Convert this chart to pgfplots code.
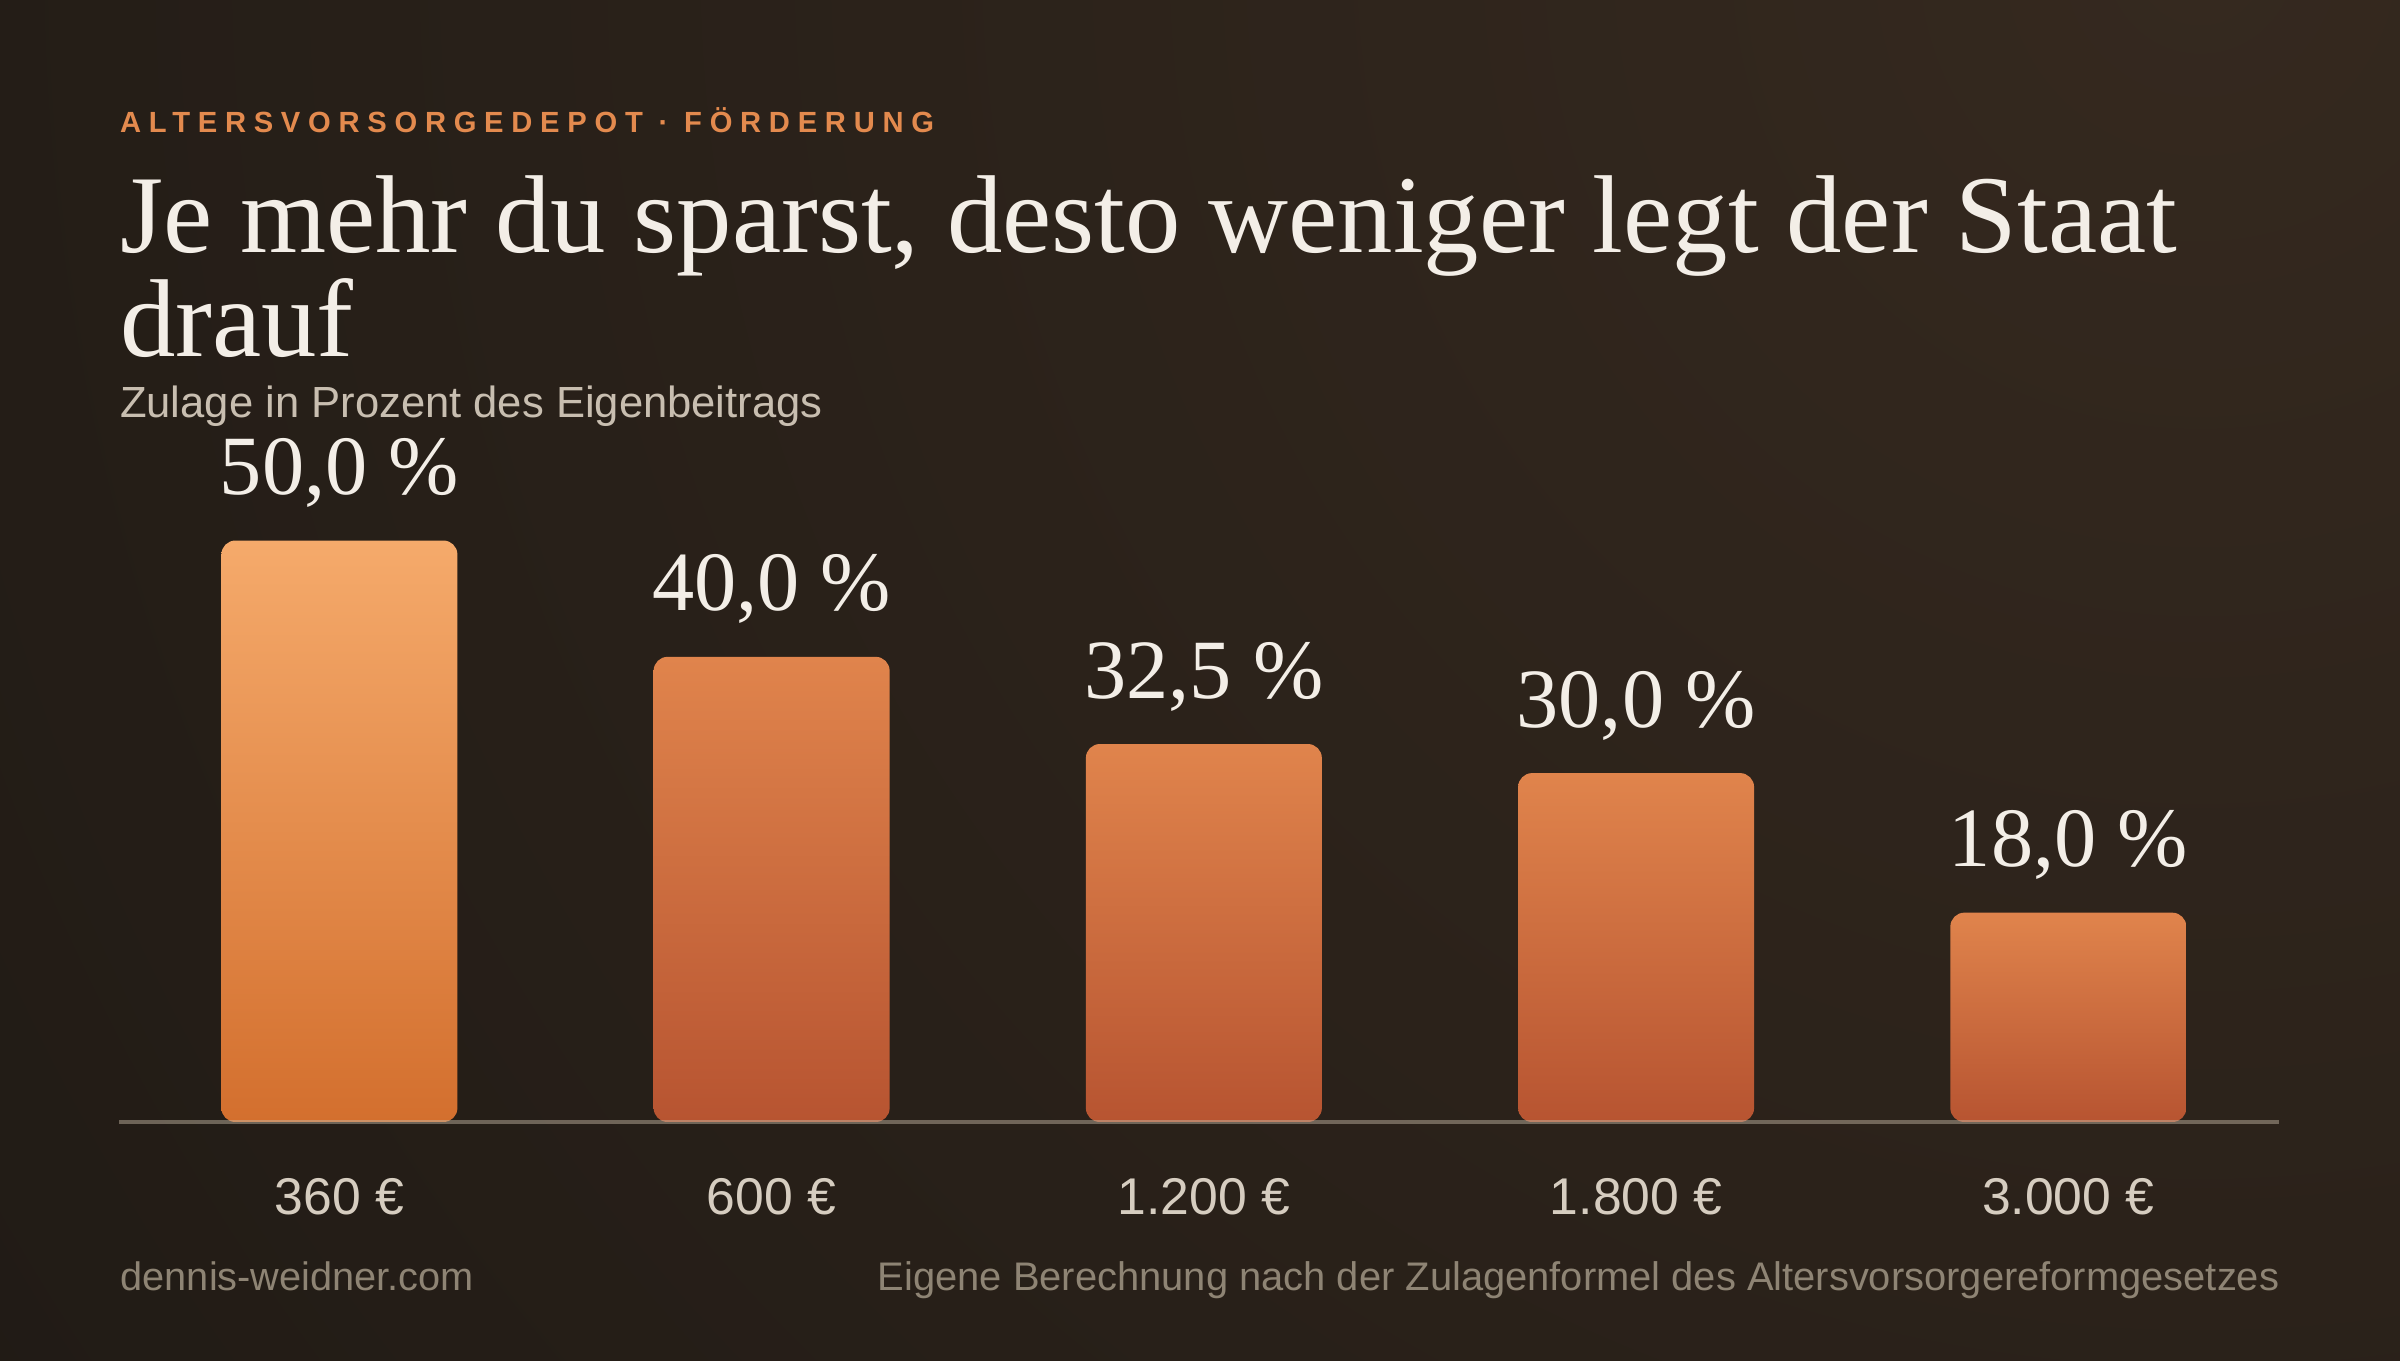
\documentclass[border=0pt]{standalone}
\usepackage{fontspec}
\setmainfont{Liberation Serif}
\setsansfont{Liberation Sans}
\newfontfamily\kickerfont{Liberation Sans}[LetterSpace=26.5]
\usepackage{pgfplots}
\pgfplotsset{compat=1.18}

\definecolor{bgcol}{HTML}{1E1914}
\definecolor{glow}{HTML}{35291F}
\definecolor{kicker}{HTML}{E38A4E}
\definecolor{titlecol}{HTML}{F3EEE7}
\definecolor{subcol}{HTML}{C8BEB0}
\definecolor{tickcol}{HTML}{D6CDC0}
\definecolor{footcol}{HTML}{8E8474}
\definecolor{axiscol}{HTML}{C8BBA8}
\definecolor{hltop}{HTML}{F5AA6B}
\definecolor{hlbot}{HTML}{D36F2E}
\definecolor{bartop}{HTML}{E0844C}
\definecolor{barbot}{HTML}{B75431}

\begin{document}
\begin{tikzpicture}
\useasboundingbox (0,0) rectangle (24,13.6);
\begin{scope}
  \clip (0,0) rectangle (24,13.6);
  \fill[bgcol] (0,0) rectangle (24,13.6);
  \shade[inner color=glow, outer color=bgcol] (22,14) circle (30cm);
\end{scope}

% header
\node[anchor=base west, inner sep=0pt, text=kicker]
  at (1.194,12.27) {\kickerfont\bfseries\fontsize{8.3}{10}\selectfont ALTERSVORSORGEDEPOT · FÖRDERUNG};
\node[anchor=base west, inner sep=0pt, text=titlecol]
  at (1.194,11.07) {\fontsize{31.5}{33}\selectfont Je mehr du sparst, desto weniger legt der Staat};
\node[anchor=base west, inner sep=0pt, text=titlecol]
  at (1.194,10.03) {\fontsize{31.5}{33}\selectfont drauf};
\node[anchor=base west, inner sep=0pt, text=subcol]
  at (1.194,9.42) {\sffamily\fontsize{12.4}{14}\selectfont Zulage in Prozent des Eigenbeitrags};

\begin{axis}[
  at={(1.194cm,2.38cm)}, anchor=south west,
  scale only axis, width=21.596cm, height=7.443cm,
  xmin=-0.509, xmax=4.4875, ymin=2, ymax=66,
  enlargelimits=false,
  ybar, bar width=2.36cm, bar shift=0pt,
  y filter/.expression={y+2},
  hide y axis,
  axis x line*=bottom,
  x axis line style={-, draw=axiscol, line width=1.1pt, draw opacity=0.45},
  axis on top,
  xtick={0,1,2,3,4},
  xticklabels={360 €, 600 €, 1.200 €, 1.800 €, 3.000 €},
  major tick length=0pt,
  xticklabel style={anchor=base, yshift=-0.93cm, text=tickcol,
    font=\sffamily\fontsize{14.7}{16}\selectfont},
  point meta=rawy,
  /pgf/number format/assume math mode=true,
  nodes near coords={\pgfmathprintnumber[fixed, fixed zerofill, precision=1, use comma]{\pgfplotspointmeta}~\%},
  every node near coord/.append style={anchor=base, inner sep=0pt, yshift=0.46cm, text=titlecol,
    font=\rmfamily\fontsize{24}{28}\selectfont},
]
\addplot[draw=none, bar shift=0pt, rounded corners=0.14cm, top color=hltop, bottom color=hlbot]
  coordinates {(0,50.0)};
\addplot[draw=none, bar shift=0pt, rounded corners=0.14cm, top color=bartop, bottom color=barbot]
  coordinates {(1,40.0)};
\addplot[draw=none, bar shift=0pt, rounded corners=0.14cm, top color=bartop, bottom color=barbot]
  coordinates {(2,32.5)};
\addplot[draw=none, bar shift=0pt, rounded corners=0.14cm, top color=bartop, bottom color=barbot]
  coordinates {(3,30.0)};
\addplot[draw=none, bar shift=0pt, rounded corners=0.14cm, top color=bartop, bottom color=barbot]
  coordinates {(4,18.0)};
\end{axis}

% footer
\node[anchor=base west, inner sep=0pt, text=footcol]
  at (1.20,0.70) {\sffamily\fontsize{11.3}{13}\selectfont dennis-weidner.com};
\node[anchor=base east, inner sep=0pt, text=footcol]
  at (22.80,0.70) {\sffamily\fontsize{11.35}{13}\selectfont Eigene Berechnung nach der Zulagenformel des Altersvorsorgereformgesetzes};
\end{tikzpicture}
\end{document}
